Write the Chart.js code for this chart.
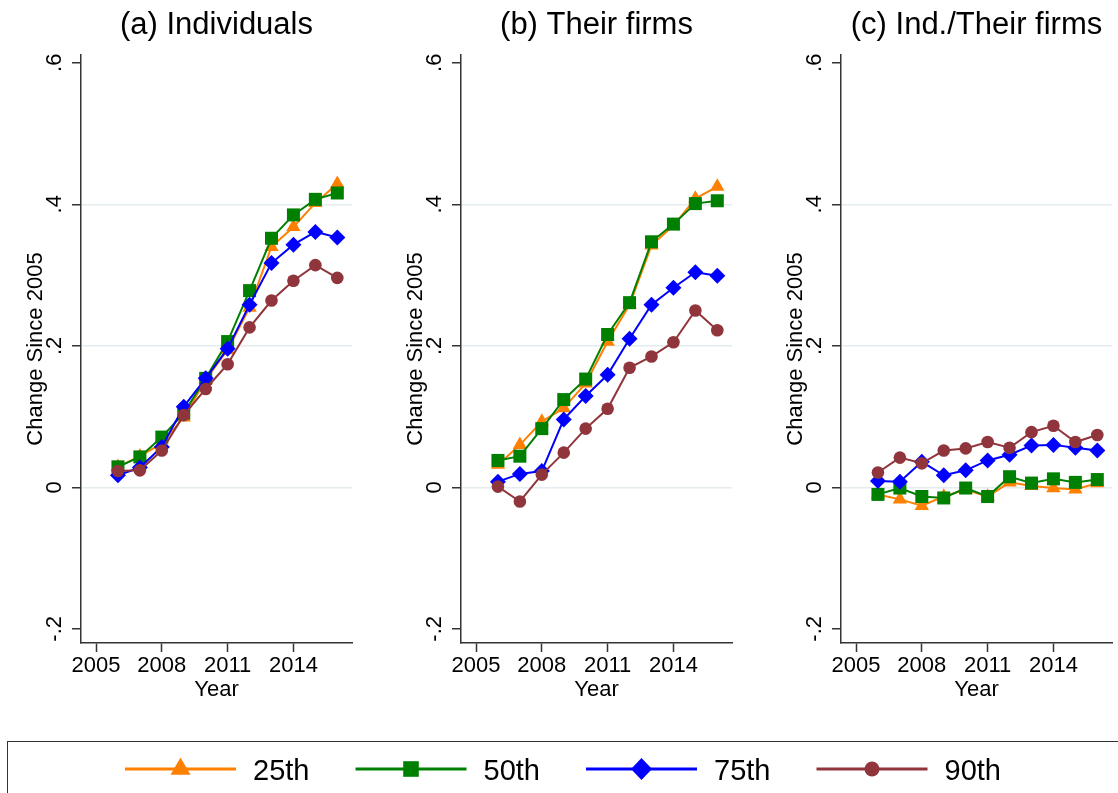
<!DOCTYPE html>
<html>
<head>
<meta charset="utf-8">
<script src="https://cdn.jsdelivr.net/npm/chart.js@4.4.1/dist/chart.umd.min.js"></script>
<style>
  html, body { margin: 0; padding: 0; background: #fff; }
  body { width: 1118px; height: 793px; position: relative; overflow: hidden;
         font-family: "Liberation Sans", Arial, Helvetica, sans-serif; }
  .panel { position: absolute; top: 0; }
  #legendBox { position: absolute; left: 7px; top: 741px; width: 1140px; height: 80px;
               border: 1.5px solid #333; box-sizing: border-box; }
  #legendCanvas { position: absolute; left: 0; top: 741px; }
  .legLabel { position: absolute; font-size: 29px; line-height: 29px; color: #000; white-space: nowrap; }
</style>
</head>
<body>
<canvas id="panel0" class="panel" width="380" height="720" style="left:0px"></canvas>
<canvas id="panel1" class="panel" width="380" height="720" style="left:380px"></canvas>
<canvas id="panel2" class="panel" width="380" height="720" style="left:760px"></canvas>
<div id="legendBox"></div>
<canvas id="legendCanvas" width="1118" height="52"></canvas>

<script>
// ---- data ----
const years = [2006, 2007, 2008, 2009, 2010, 2011, 2012, 2013, 2014, 2015, 2016];
const xTicks = [2005, 2008, 2011, 2014];
const yTicks = [-0.2, 0, 0.2, 0.4, 0.6];
const yGridValues = [0, 0.2, 0.4];
const seriesNames = ['25th', '50th', '75th', '90th'];
const panelTitles = ['(a) Individuals', '(b) Their firms', '(c) Ind./Their firms'];
const yAxisTitle = 'Change Since 2005';
const xAxisTitle = 'Year';

// (a) Individuals
const indP25 = [0.029, 0.044, 0.062, 0.099, 0.152, 0.194, 0.254, 0.340, 0.368, 0.402, 0.429];
const indP50 = [0.029, 0.043, 0.071, 0.105, 0.154, 0.206, 0.278, 0.352, 0.385, 0.407, 0.416];
const indP75 = [0.017, 0.028, 0.057, 0.114, 0.154, 0.196, 0.258, 0.317, 0.343, 0.361, 0.353];
const indP90 = [0.023, 0.024, 0.052, 0.102, 0.139, 0.174, 0.226, 0.264, 0.292, 0.314, 0.296];

// (b) Their firms
const firmP25 = [0.032, 0.060, 0.093, 0.112, 0.147, 0.206, 0.258, 0.342, 0.370, 0.408, 0.425];
const firmP50 = [0.038, 0.044, 0.083, 0.124, 0.153, 0.216, 0.261, 0.347, 0.372, 0.401, 0.405];
const firmP75 = [0.008, 0.019, 0.023, 0.096, 0.129, 0.159, 0.210, 0.258, 0.282, 0.304, 0.299];
const firmP90 = [0.001, -0.020, 0.018, 0.049, 0.083, 0.111, 0.169, 0.185, 0.205, 0.250, 0.222];

// (c) Ind./Their firms
const ratioP25 = [-0.010, -0.017, -0.026, -0.013, -0.003, -0.013, 0.007, 0.002, -0.001, -0.003, 0.006];
const ratioP50 = [-0.010, -0.001, -0.013, -0.015, -0.001, -0.013, 0.015, 0.006, 0.012, 0.007, 0.011];
const ratioP75 = [0.009, 0.008, 0.036, 0.017, 0.024, 0.038, 0.046, 0.059, 0.060, 0.056, 0.052];
const ratioP90 = [0.021, 0.042, 0.034, 0.052, 0.055, 0.064, 0.056, 0.078, 0.087, 0.064, 0.074];

const panelSeries = [
  [indP25, indP50, indP75, indP90],
  [firmP25, firmP50, firmP75, firmP90],
  [ratioP25, ratioP50, ratioP75, ratioP90]
];

// ---- styling ----
const FONT = '"Liberation Sans", Arial, Helvetica, sans-serif';
const AXIS_COLOR = '#333333';
const GRID_COLOR = '#e4ecf0';
const seriesStyle = [
  { color: '#ff8000', point: 'triangle', radius: 8.3 },
  { color: '#008000', point: 'rect',     radius: 9.2 },
  { color: '#0000ff', point: 'rectRot',  radius: 8.0 },
  { color: '#90353b', point: 'circle',   radius: 6.3 }
];

function fmtY(v) {
  if (Math.abs(v) < 1e-9) return '0';
  return v.toFixed(1).replace(/^(-?)0\./, '$1.');
}

// Rotated y tick labels, reading bottom-to-top
const rotatedYLabels = {
  id: 'rotatedYLabels',
  afterDraw(chart) {
    const s = chart.scales.y;
    const ctx = chart.ctx;
    ctx.save();
    ctx.font = '22px ' + FONT;
    ctx.fillStyle = '#000';
    ctx.textAlign = 'center';
    ctx.textBaseline = 'alphabetic';
    s.ticks.forEach(t => {
      const y = s.getPixelForValue(t.value);
      ctx.save();
      ctx.translate(s.right - 20, y);
      ctx.rotate(-Math.PI / 2);
      ctx.fillText(fmtY(t.value), 0, 0);
      ctx.restore();
    });
    ctx.restore();
  }
};

function makePanel(idx) {
  const datasets = panelSeries[idx].map((vals, k) => ({
    label: seriesNames[k],
    data: years.map((yr, i) => ({ x: yr, y: vals[i] })),
    borderColor: seriesStyle[k].color,
    backgroundColor: seriesStyle[k].color,
    pointBackgroundColor: seriesStyle[k].color,
    pointBorderColor: seriesStyle[k].color,
    pointBorderWidth: 0,
    pointStyle: seriesStyle[k].point,
    pointRadius: seriesStyle[k].radius,
    borderWidth: 2,
    tension: 0,
    fill: false,
    order: 4 - k
  }));

  return new Chart(document.getElementById('panel' + idx), {
    type: 'line',
    data: { datasets },
    plugins: [rotatedYLabels],
    options: {
      responsive: false,
      animation: false,
      devicePixelRatio: 1,
      layout: { padding: { left: 0, right: 28, top: 0, bottom: 0 } },
      plugins: {
        legend: { display: false },
        tooltip: { enabled: false },
        title: {
          display: true,
          text: panelTitles[idx],
          fullSize: false,
          color: '#000',
          font: { family: FONT, size: 31, weight: 'normal', lineHeight: 1.2 },
          padding: { top: 7, bottom: 10.8 }
        }
      },
      scales: {
        x: {
          type: 'linear',
          min: 2004.316,
          max: 2016.67,
          afterBuildTicks: s => { s.ticks = xTicks.map(v => ({ value: v })); },
          afterFit: s => { s.height = 77; },
          ticks: {
            color: '#000',
            font: { family: FONT, size: 22 },
            padding: 1,
            maxRotation: 0,
            minRotation: 0,
            autoSkip: false,
            callback: v => String(v)
          },
          grid: {
            drawOnChartArea: false,
            drawTicks: true,
            tickLength: 9,
            tickColor: AXIS_COLOR,
            tickWidth: 1.5
          },
          border: { display: true, color: AXIS_COLOR, width: 1.5 },
          title: {
            display: true,
            text: xAxisTitle,
            color: '#000',
            font: { family: FONT, size: 22, lineHeight: 1.2 },
            padding: { top: 0, bottom: 16.4 }
          }
        },
        y: {
          type: 'linear',
          min: -0.22,
          max: 0.611,
          afterBuildTicks: s => { s.ticks = yTicks.map(v => ({ value: v })); },
          afterFit: s => { s.width = 81; },
          ticks: { display: false },
          grid: {
            color: c => (c.tick && yGridValues.some(g => Math.abs(g - c.tick.value) < 1e-9)) ? GRID_COLOR : 'rgba(0,0,0,0)',
            lineWidth: 1.5,
            drawTicks: true,
            tickLength: 9,
            tickColor: AXIS_COLOR,
            tickWidth: 1.5
          },
          border: { display: true, color: AXIS_COLOR, width: 1.5 },
          title: {
            display: true,
            text: yAxisTitle,
            color: '#000',
            font: { family: FONT, size: 22, lineHeight: 1.2 },
            padding: { top: 22.7, bottom: 0 }
          }
        }
      }
    }
  });
}

[0, 1, 2].forEach(makePanel);

// ---- legend: line segment + marker + label for each series ----
function drawMarker(ctx, style, x, y, r) {
  ctx.beginPath();
  if (style === 'triangle') {
    const h = r * Math.sqrt(3);
    ctx.moveTo(x, y - h * 2 / 3);
    ctx.lineTo(x + r, y + h / 3);
    ctx.lineTo(x - r, y + h / 3);
    ctx.closePath();
  } else if (style === 'rect') {
    ctx.rect(x - r, y - r, 2 * r, 2 * r);
  } else if (style === 'rectRot') {
    ctx.moveTo(x, y - r * 1.05);
    ctx.lineTo(x + r, y);
    ctx.lineTo(x, y + r * 1.05);
    ctx.lineTo(x - r, y);
    ctx.closePath();
  } else {
    ctx.arc(x, y, r, 0, Math.PI * 2);
  }
  ctx.fill();
}

const legendMarkerSize = [10, 7.8, 10.5, 7.5];
(function drawLegend() {
  const cv = document.getElementById('legendCanvas');
  const ctx = cv.getContext('2d');
  const lineY = 28;
  const start = 125, pitch = 230.5, lineLen = 111, gap = 17;
  seriesNames.forEach((name, k) => {
    const x0 = start + k * pitch;
    ctx.strokeStyle = seriesStyle[k].color;
    ctx.fillStyle = seriesStyle[k].color;
    ctx.lineWidth = 3;
    ctx.beginPath();
    ctx.moveTo(x0, lineY);
    ctx.lineTo(x0 + lineLen, lineY);
    ctx.stroke();
    drawMarker(ctx, seriesStyle[k].point, x0 + lineLen / 2, lineY, legendMarkerSize[k]);
    const span = document.createElement('span');
    span.className = 'legLabel';
    span.textContent = name;
    span.style.left = (x0 + lineLen + gap) + 'px';
    span.style.top = '755.5px';
    document.body.appendChild(span);
  });
})();
</script>
</body>
</html>
